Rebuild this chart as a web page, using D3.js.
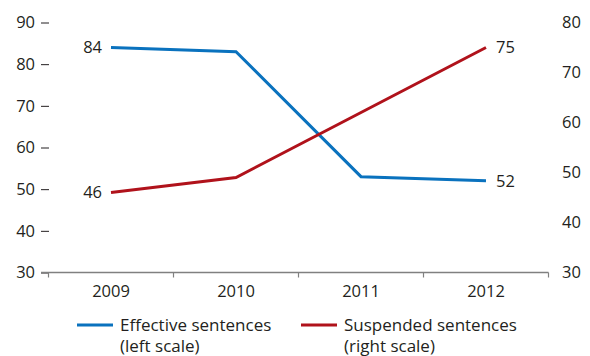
<!DOCTYPE html>
<html>
<head>
<meta charset="utf-8">
<script src="https://cdn.jsdelivr.net/npm/d3@7"></script>
<style>
  html, body { margin: 0; padding: 0; background: #fff; }
  svg { display: block; font-family: "Open Sans", sans-serif; }
  text { fill: #231f20; }
</style>
</head>
<body>
<svg id="chart" width="590" height="356"></svg>
<script>
// Yearly figures
const years = ["2009", "2010", "2011", "2012"];
const effective = [84, 83, 53, 52];   // left scale
const suspended = [46, 49, 62, 75];   // right scale
const leftTicks = [30, 40, 50, 60, 70, 80, 90];
const rightTicks = [30, 40, 50, 60, 70, 80];

const blue = "#0a72be";
const red = "#b0121b";
const axisGrey = "#808080";
const fontSize = 16.5;
const legendFontSize = 17;

const svg = d3.select("#chart");

const x = d3.scaleBand().domain(years).range([48.5, 548.5]).padding(0);
const yL = d3.scaleLinear().domain([30, 90]).range([272.5, 22.5]);
const yR = d3.scaleLinear().domain([30, 80]).range([272.5, 22.5]);
const cx = d => x(d) + x.bandwidth() / 2;

// Left axis: short dashes beside each value
const leftAxis = d3.axisLeft(yL).tickValues(leftTicks).tickSize(8).tickPadding(6);
const gL = svg.append("g").attr("transform", "translate(49,0)").call(leftAxis);
gL.select(".domain").remove();
gL.selectAll(".tick line").attr("stroke", "#231f20").attr("stroke-width", 1);
gL.selectAll(".tick text").attr("font-size", fontSize).attr("font-family", "Open Sans").style("fill", "#231f20");

// Right axis: labels only
const rightAxis = d3.axisRight(yR).tickValues(rightTicks).tickSize(0).tickPadding(0);
const gR = svg.append("g").attr("transform", "translate(562,0)").call(rightAxis);
gR.select(".domain").remove();
gR.selectAll(".tick text").attr("font-size", fontSize).attr("font-family", "Open Sans").style("fill", "#231f20");

// Category axis
const base = yL(30);
svg.append("line")
  .attr("x1", 41).attr("x2", x.range()[1])
  .attr("y1", base).attr("y2", base)
  .attr("stroke", axisGrey).attr("stroke-width", 1.6);
const bounds = years.map(d => x(d)).concat([x.range()[1]]);
svg.selectAll(".xtick").data(bounds).join("line")
  .attr("class", "xtick")
  .attr("x1", d => d).attr("x2", d => d)
  .attr("y1", base).attr("y2", base + 5)
  .attr("stroke", axisGrey).attr("stroke-width", 1.2);
svg.selectAll(".xlabel").data(years).join("text")
  .attr("class", "xlabel")
  .attr("x", d => cx(d)).attr("y", 297)
  .attr("text-anchor", "middle")
  .attr("font-size", fontSize)
  .text(d => d);

// Series lines
const lineL = d3.line().x((d, i) => cx(years[i])).y(d => yL(d));
const lineR = d3.line().x((d, i) => cx(years[i])).y(d => yR(d));

svg.append("path").datum(effective)
  .attr("d", lineL).attr("fill", "none")
  .attr("stroke", blue).attr("stroke-width", 3).attr("stroke-linejoin", "miter");
svg.append("path").datum(suspended)
  .attr("d", lineR).attr("fill", "none")
  .attr("stroke", red).attr("stroke-width", 3).attr("stroke-linejoin", "miter");

// End-point value labels
const last = years.length - 1;
const endLabels = [
  { v: effective[0], x: cx(years[0]) - 9, y: yL(effective[0]), anchor: "end" },
  { v: suspended[0], x: cx(years[0]) - 9, y: yR(suspended[0]), anchor: "end" },
  { v: effective[last], x: cx(years[last]) + 10, y: yL(effective[last]), anchor: "start" },
  { v: suspended[last], x: cx(years[last]) + 10, y: yR(suspended[last]), anchor: "start" }
];
svg.selectAll(".vlabel").data(endLabels).join("text")
  .attr("class", "vlabel")
  .attr("x", d => d.x).attr("y", d => d.y)
  .attr("dy", "0.35em")
  .attr("text-anchor", d => d.anchor)
  .attr("font-size", fontSize)
  .text(d => d.v);

// Legend
const legend = [
  { color: blue, lines: ["Effective sentences", "(left scale)"], x: 77 },
  { color: red, lines: ["Suspended sentences", "(right scale)"], x: 301 }
];
const lg = svg.selectAll(".legend").data(legend).join("g")
  .attr("class", "legend")
  .attr("transform", d => `translate(${d.x},0)`);
lg.append("line")
  .attr("x1", 0).attr("x2", 36).attr("y1", 325).attr("y2", 325)
  .attr("stroke", d => d.color).attr("stroke-width", 3);
lg.append("text")
  .attr("x", 43).attr("y", 331)
  .attr("font-size", legendFontSize)
  .selectAll("tspan").data(d => d.lines).join("tspan")
  .attr("x", 43).attr("dy", (d, i) => i === 0 ? 0 : 21)
  .text(d => d);
</script>
</body>
</html>
